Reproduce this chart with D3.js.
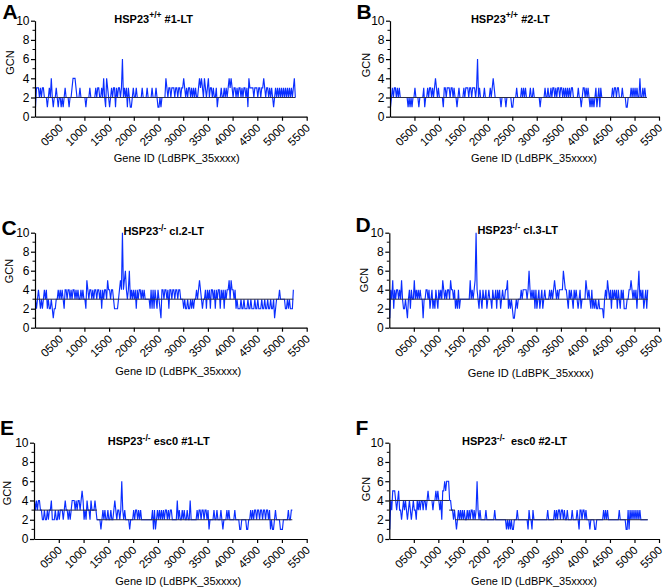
<!DOCTYPE html>
<html><head><meta charset="utf-8">
<script src="https://cdn.jsdelivr.net/npm/d3@7"></script>
<style>
body{margin:0;background:#fff;}
svg text{font-family:"Liberation Sans",Arial,sans-serif;}
</style></head>
<body><svg id="c" width="668" height="588"></svg>
<script>
// ---- data (GCN per gene window, gene IDs LdBPK_35xxxx, step 20) ----
const geneStep = 20;
const yTicks = [0,2,4,6,8,10];
const yMinor = [1,3,5,7,9];
const xTicks = [500,1000,1500,2000,2500,3000,3500,4000,4500,5000,5500];
const xTickLabels = ["0500","1000","1500","2000","2500","3000","3500","4000","4500","5000","5500"];

const gcnA = [1,3,3,3,2,3,2,3,3,2, 2,2,1,2,3,2,4,2,1,2, 2,3,2,1,2,2,1,2,1,2, 3,2,2,2,1,2,2,3,4,4, 4,3,2,2,2,3,2,2,2,2, 2,1,2,2,2,3,2,2,2,2, 2,3,2,3,3,2,2,3,2,4, 2,1,4,3,2,1,2,3,2,3, 3,1,3,2,3,3,2,3,6,2, 3,2,3,1,3,2,1,1,2,3, 2,2,3,2,2,2,2,2,3,2, 2,2,2,3,2,2,2,2,3,2, 2,2,3,2,1,1,2,1,2,2, 2,2,4,3,2,3,3,2,3,3, 3,2,3,3,2,3,3,2,3,3, 4,3,2,3,2,3,3,2,3,2, 3,2,3,2,2,3,4,3,4,3, 2,4,3,2,3,4,2,3,3,2, 3,2,2,3,1,2,2,2,3,2, 2,3,2,3,2,3,4,3,4,3, 2,3,3,2,3,2,3,3,2,3, 2,3,3,2,3,1,4,3,3,3, 3,2,3,3,3,2,3,3,2,3, 3,4,3,2,3,3,2,3,2,3, 2,1,2,3,2,3,2,3,2,3, 2,3,2,3,2,3,2,3,2,3, 2,3,4,2];
const gcnB = [1,2,3,2,3,3,2,3,2,3, 2,2,2,2,2,2,2,2,1,2, 1,2,1,2,2,3,2,2,2,1, 2,2,2,2,3,1,2,2,3,2, 3,3,2,3,2,3,4,3,2,3, 2,2,2,2,1,3,3,2,3,3, 3,2,3,3,2,3,2,2,1,2, 3,2,2,2,2,3,2,3,3,3, 2,3,3,2,3,3,3,2,3,6, 2,3,2,2,2,2,3,2,2,2, 2,2,3,2,3,4,3,2,2,2, 2,2,2,1,2,2,2,2,1,2, 2,2,2,2,1,1,2,2,2,3, 2,2,2,2,3,2,3,2,3,2, 2,2,2,3,2,2,3,2,2,2, 2,2,2,1,2,2,2,2,3,2, 2,3,2,2,3,2,3,3,2,3, 2,3,3,2,3,3,2,3,2,3, 2,3,2,3,2,3,3,2,2,2, 2,2,3,2,2,1,2,3,3,2, 3,2,3,2,1,2,1,2,1,2, 3,1,2,3,1,3,2,2,2,2, 2,2,2,2,2,2,2,3,2,3, 3,2,3,3,2,2,2,3,2,2, 2,1,1,2,2,2,3,2,3,2, 3,2,3,2,2,4,2,2,3,2, 3,2,2];
const gcnC = [3,2,3,4,3,2,3,2,3,4, 3,4,2,3,2,2,3,2,1,2, 2,3,3,4,3,4,3,4,3,2, 4,4,3,4,4,3,4,3,4,4, 3,4,3,4,3,3,4,3,4,3, 3,2,5,4,3,4,4,3,4,3, 4,4,3,4,4,3,4,2,4,3, 4,4,3,5,4,4,3,4,4,3, 2,2,2,2,3,4,5,4,10,4, 5,6,4,3,4,6,3,4,3,4, 3,4,2,4,3,4,4,3,4,3, 4,3,3,3,3,3,2,4,2,4, 2,4,3,2,4,3,2,1,4,4, 3,4,4,3,4,2,4,4,3,4, 4,3,4,4,3,4,4,3,3,3, 2,3,2,2,3,2,2,3,2,3, 2,3,3,4,3,4,5,4,3,2, 3,3,4,2,4,3,4,2,4,4, 3,4,2,4,3,4,4,2,4,3, 4,2,4,3,4,4,5,3,5,4, 4,3,4,2,3,2,2,2,3,2, 2,3,2,2,2,3,2,2,3,2, 2,2,3,2,2,3,2,2,2,3, 2,2,3,2,2,3,2,2,3,2, 2,3,1,2,3,3,3,4,3,3, 3,3,3,2,2,3,2,3,2,2, 2,4];
const gcnD = [1,4,3,5,2,4,3,4,4,3, 4,3,5,3,2,2,3,2,1,3, 4,2,4,3,3,5,3,4,3,4, 3,4,3,3,1,3,3,4,4,3, 4,2,3,4,2,3,2,4,3,2, 4,3,4,3,5,4,3,4,3,4, 4,3,5,4,4,3,4,2,3,2, 4,2,3,3,3,3,3,3,3,3, 3,3,5,3,4,3,4,5,10,4, 3,2,4,3,2,4,3,3,4,2, 3,4,3,3,2,4,3,3,4,2, 4,3,4,2,3,4,3,3,4,4, 5,2,3,2,3,2,1,1,2,3, 2,3,3,3,4,3,4,4,4,4, 3,4,6,4,3,4,3,4,2,4, 2,3,4,2,3,4,2,3,4,3, 3,3,3,4,3,4,3,4,5,4, 3,4,3,4,4,4,4,6,5,4, 4,3,2,4,3,4,3,2,4,3, 4,3,2,3,4,2,3,3,3,3, 5,4,3,4,3,2,4,2,3,2, 3,2,2,3,2,2,2,2,1,3, 4,3,5,4,3,4,2,4,3,4, 3,4,2,4,3,2,4,3,4,2, 2,2,3,3,4,4,5,4,3,4, 3,4,2,4,6,3,4,3,4,2, 3,4,2,4];
const gcnE = [4,3,4,3,4,4,3,3,2,2, 3,2,2,3,2,3,3,4,2,2, 2,3,2,2,3,2,3,3,3,2, 3,4,3,3,2,3,2,3,4,4, 4,3,4,3,4,4,3,4,5,4, 2,3,2,4,3,3,2,4,3,3, 3,4,3,2,2,2,2,1,2,3, 2,3,2,2,3,2,2,3,2,2, 3,4,3,2,3,3,2,3,6,3, 2,3,2,2,2,2,1,2,2,2, 3,2,3,3,2,3,2,3,2,2, 2,2,2,2,2,2,2,2,2,3, 1,3,1,2,3,2,3,2,3,2, 3,2,3,3,2,3,2,3,3,2, 2,2,2,2,4,2,3,2,2,3, 2,3,2,2,3,2,2,4,2,2, 2,2,2,2,3,2,3,3,2,3, 3,2,3,3,2,3,1,2,2,2, 2,3,2,2,3,2,2,2,3,2, 1,2,2,2,3,2,3,2,2,2, 2,2,3,2,2,2,2,1,1,2, 2,2,2,2,1,1,2,2,3,2, 3,2,3,3,2,3,3,2,3,3, 2,3,3,2,3,3,2,3,1,2, 1,1,2,3,2,2,2,2,1,1, 1,2,2,2,2,2,3,2,2,3, 3];
const gcnF = [1,4,3,5,5,5,4,3,4,5, 3,3,2,3,4,3,4,3,2,3, 4,3,2,3,4,3,3,2,4,3, 4,3,4,4,3,4,4,3,4,5, 4,4,4,4,3,4,4,5,4,5, 4,3,4,2,5,5,6,5,6,6, 6,4,4,3,3,2,3,2,1,2, 3,2,3,2,3,2,3,2,2,3, 2,3,2,3,3,2,3,2,3,6, 3,2,3,2,2,2,2,2,3,2, 2,2,2,2,2,2,2,3,2,2, 2,2,2,2,2,2,2,2,2,1, 2,1,2,1,2,1,1,2,2,2, 3,2,2,2,2,2,2,2,2,2, 2,1,3,2,2,1,3,2,2,2, 2,2,2,2,2,2,2,2,2,2, 2,3,2,2,2,2,2,2,3,2, 3,2,3,3,2,3,3,2,3,2, 2,3,2,2,2,2,3,2,2,2, 2,3,2,1,3,3,2,3,3,2, 3,2,2,2,1,2,2,2,2,1, 1,2,2,2,2,2,2,2,3,2, 3,2,3,2,2,2,2,2,2,2, 2,2,2,2,3,2,2,2,2,2, 2,1,1,3,1,3,2,3,2,3, 2,3,2,3,2,3,2,2,2,2, 2,2,2,2];

// baseline (chromosome somy) segments: [from gene, to gene, level]
const ploidyA = [[0,5270,2]];
const ploidyB = [[0,5250,2]];
const ploidyC = [[0,5230,3]];
const ploidyD = [[0,5270,3]];
const ploidyE = [[0,1270,3],[1270,5210,2]];
const ploidyF = [[0,1220,4],[1220,1340,3],[1340,5270,2]];

const titles = [
  ["HSP23","+/+"," #1-LT"],
  ["HSP23","+/+"," #2-LT"],
  ["HSP23","-/-"," cl.2-LT"],
  ["HSP23","-/-"," cl.3-LT"],
  ["HSP23","-/-"," esc0 #1-LT"],
  ["HSP23","-/-","\u00a0 esc0 #2-LT"]
];
const letters = ["A","B","C","D","E","F"];
const yLabel = "GCN";
const xLabel = "Gene ID (LdBPK_35xxxx)";

// ---- layout ----
const panels = [
  {data:gcnA, ploidy:ploidyA, L:35,  R:306.7, T:20.7,  B:116.7, title:titles[0], tx:153.7, ty:22.7, letter:letters[0], lx:2.5, ly:18.5, gx:9.5, gy:62.5, xlx:176.7, xly:161.5},
  {data:gcnB, ploidy:ploidyB, L:390, R:659,   T:20.7,  B:116.7, title:titles[1], tx:510.3, ty:22.5, letter:letters[1], lx:356.5, ly:18.5, gx:365.5, gy:65, xlx:534, xly:162},
  {data:gcnC, ploidy:ploidyC, L:35,  R:306.7, T:232.7, B:327.7, title:titles[2], tx:163.7, ty:235, letter:letters[2], lx:1.5, ly:235, gx:8.5, gy:271, xlx:178.3, xly:375},
  {data:gcnD, ploidy:ploidyD, L:389.3, R:659, T:232.7, B:327.7, title:titles[3], tx:517.7, ty:234.3, letter:letters[3], lx:355.5, ly:231.7, gx:363.5, gy:280, xlx:530.7, xly:376.5},
  {data:gcnE, ploidy:ploidyE, L:34,  R:306.7, T:442.7, B:539,   title:titles[4], tx:158.7, ty:445, letter:letters[4], lx:0, ly:435, gx:6.5, gy:493, xlx:178.3, xly:585},
  {data:gcnF, ploidy:ploidyF, L:389.3, R:659, T:442.7, B:539,   title:titles[5], tx:514.5, ty:445, letter:letters[5], lx:355.5, ly:435, gx:365.5, gy:489, xlx:534, xly:585}
];

const svg = d3.select("#c");
const blue = "#0a2eff";
const dark = "#2a2c44";

panels.forEach(p => {
  const x = d3.scaleLinear().domain([0,5500]).range([p.L, p.R]);
  const y = d3.scaleLinear().domain([0,10]).range([p.B, p.T]);
  const g = svg.append("g");

  // data line
  const line = d3.line().x((d,i) => x(10 + i*geneStep)).y(d => y(d));
  g.append("path").datum(p.data).attr("d", line)
    .attr("fill","none").attr("stroke",blue).attr("stroke-width",1.15).attr("stroke-linejoin","miter");

  // baseline
  g.selectAll("line.base").data(p.ploidy).join("line").attr("class","base")
    .attr("x1", d => x(d[0])).attr("x2", d => x(d[1]))
    .attr("y1", d => y(d[2])).attr("y2", d => y(d[2]))
    .attr("stroke", dark).attr("stroke-width", 1);

  // y axis
  const ya = g.append("g").attr("transform",`translate(${p.L},0)`)
    .call(d3.axisLeft(y).tickValues(yTicks).tickSize(4).tickPadding(1.5).tickSizeOuter(0));
  ya.select(".domain").attr("stroke","#000").attr("stroke-width",1.2);
  ya.selectAll(".tick line").attr("stroke","#000").attr("stroke-width",1.2);
  ya.selectAll(".tick text").attr("font-size","12px").attr("fill","#000")
    .attr("font-family","'Liberation Sans Narrow','Liberation Sans',Arial,sans-serif");
  g.selectAll("line.ymin").data(yMinor).join("line").attr("class","ymin")
    .attr("x1", p.L-2.5).attr("x2", p.L).attr("y1", d => y(d)).attr("y2", d => y(d))
    .attr("stroke","#000").attr("stroke-width",1);

  // x axis
  const xa = g.append("g").attr("transform",`translate(0,${p.B})`)
    .call(d3.axisBottom(x).tickValues(xTicks).tickSize(4).tickSizeOuter(0)
      .tickFormat((d,i) => xTickLabels[i]));
  xa.select(".domain").attr("stroke","#000").attr("stroke-width",1.2);
  xa.selectAll(".tick line").attr("stroke","#000").attr("stroke-width",1.2);
  xa.selectAll(".tick text").attr("font-size","11.5px").attr("fill","#000")
    .attr("text-anchor","end").attr("y",0).attr("dy",0)
    .attr("transform","translate(3.5,12) rotate(-45)");

  // title
  const t = g.append("text").attr("x", p.tx).attr("y", p.ty).attr("text-anchor","middle")
    .attr("font-weight","bold").attr("font-size","11px").attr("fill","#000");
  t.append("tspan").text(p.title[0]);
  t.append("tspan").attr("dy",-4.5).attr("font-size","8.5px").text(p.title[1]);
  t.append("tspan").attr("dy",4.5).text(p.title[2]);

  // panel letter
  g.append("text").attr("x", p.lx).attr("y", p.ly).attr("font-weight","bold")
    .attr("font-size","21px").attr("fill","#000").text(p.letter);

  // axis labels
  g.append("text").attr("transform",`translate(${p.gx + 4},${p.gy}) rotate(-90)`)
    .attr("text-anchor","middle").attr("font-size","11px").attr("fill","#000").text(yLabel);
  g.append("text").attr("x", p.xlx).attr("y", p.xly).attr("text-anchor","middle")
    .attr("font-size","11px").attr("fill","#000").text(xLabel);
});
</script></body></html>
